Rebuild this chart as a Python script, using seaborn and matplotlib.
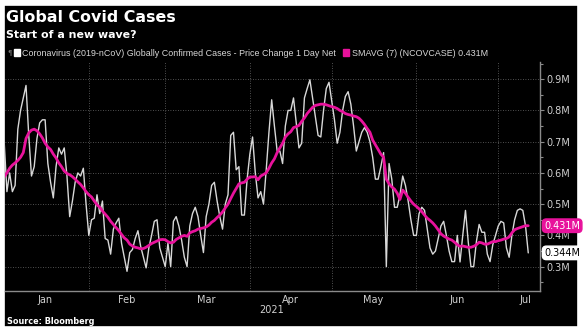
import matplotlib
matplotlib.use("Agg")
import matplotlib.pyplot as plt
import matplotlib.dates as mdates
from matplotlib.patches import Rectangle, Patch
from matplotlib.transforms import blended_transform_factory
import numpy as np
import pandas as pd
import seaborn as sns

# ---------------- data (millions of new cases per day) ----------------
start_date = "2021-01-01"
daily_cases = [
    0.70, 0.54, 0.60, 0.54, 0.56, 0.74, 0.80, 0.84, 0.88, 0.72,
    0.59, 0.62, 0.71, 0.76, 0.77, 0.77, 0.63, 0.57, 0.52, 0.62,
    0.68, 0.66, 0.68, 0.59, 0.46, 0.51, 0.57, 0.60, 0.59, 0.615,
    0.50, 0.40, 0.45, 0.455, 0.53, 0.47, 0.51, 0.39, 0.385, 0.34,
    0.42, 0.44, 0.455, 0.375, 0.33, 0.285, 0.345, 0.355, 0.39, 0.415,
    0.365, 0.33, 0.296, 0.36, 0.40, 0.445, 0.45, 0.36, 0.33, 0.30,
    0.375, 0.30, 0.445, 0.46, 0.43, 0.385, 0.33, 0.30, 0.43, 0.47,
    0.49, 0.46, 0.40, 0.345, 0.46, 0.50, 0.56, 0.57, 0.51, 0.46,
    0.42, 0.50, 0.53, 0.72, 0.73, 0.61, 0.62, 0.465, 0.465, 0.58,
    0.66, 0.715, 0.60, 0.52, 0.54, 0.50, 0.61, 0.73, 0.834, 0.75,
    0.67, 0.67, 0.63, 0.75, 0.80, 0.80, 0.84, 0.76, 0.68, 0.695,
    0.84, 0.87, 0.898, 0.84, 0.78, 0.72, 0.715, 0.80, 0.87, 0.89,
    0.83, 0.77, 0.695, 0.73, 0.80, 0.845, 0.86, 0.82, 0.75, 0.67,
    0.70, 0.73, 0.745, 0.73, 0.70, 0.65, 0.58, 0.58, 0.62, 0.665,
    0.30, 0.63, 0.58, 0.49, 0.49, 0.53, 0.59, 0.56, 0.51, 0.45,
    0.40, 0.40, 0.47, 0.49, 0.48, 0.42, 0.36, 0.34, 0.35, 0.39,
    0.43, 0.445, 0.40, 0.35, 0.316, 0.316, 0.40, 0.315, 0.40, 0.48,
    0.38, 0.30, 0.30, 0.38, 0.435, 0.41, 0.41, 0.34, 0.316, 0.37,
    0.40, 0.43, 0.445, 0.44, 0.36, 0.33, 0.40, 0.45, 0.48, 0.485,
    0.48, 0.43, 0.344,
]
sma7 = [
    0.587, 0.60, 0.615, 0.625, 0.632, 0.64, 0.65, 0.665, 0.71, 0.728,
    0.737, 0.74, 0.735, 0.725, 0.712, 0.695, 0.683, 0.675, 0.66, 0.648,
    0.632, 0.62, 0.606, 0.598, 0.594, 0.588, 0.58, 0.571, 0.563, 0.552,
    0.54, 0.53, 0.523, 0.51, 0.498, 0.49, 0.478, 0.468, 0.458, 0.445,
    0.435, 0.425, 0.415, 0.403, 0.392, 0.385, 0.372, 0.366, 0.362, 0.36,
    0.357, 0.358, 0.362, 0.368, 0.374, 0.378, 0.382, 0.386, 0.387, 0.386,
    0.38, 0.376, 0.378, 0.387, 0.392, 0.397, 0.40, 0.397, 0.408, 0.412,
    0.415, 0.42, 0.422, 0.424, 0.427, 0.433, 0.442, 0.448, 0.457, 0.465,
    0.475, 0.488, 0.50, 0.518, 0.535, 0.55, 0.565, 0.568, 0.57, 0.58,
    0.587, 0.587, 0.588, 0.578, 0.59, 0.595, 0.60, 0.615, 0.632, 0.645,
    0.665, 0.68, 0.695, 0.715, 0.725, 0.732, 0.745, 0.748, 0.752, 0.765,
    0.776, 0.79, 0.80, 0.81, 0.816, 0.818, 0.82, 0.82, 0.818, 0.815,
    0.812, 0.81, 0.806, 0.80, 0.796, 0.79, 0.787, 0.785, 0.782, 0.78,
    0.775, 0.766, 0.755, 0.742, 0.73, 0.705, 0.69, 0.675, 0.66, 0.65,
    0.58, 0.565, 0.555, 0.548, 0.535, 0.515, 0.545, 0.535, 0.522, 0.51,
    0.50, 0.493, 0.485, 0.476, 0.465, 0.455, 0.448, 0.44, 0.43, 0.418,
    0.405, 0.398, 0.393, 0.388, 0.385, 0.378, 0.37, 0.365, 0.366, 0.364,
    0.362, 0.362, 0.365, 0.37, 0.378, 0.376, 0.372, 0.372, 0.376, 0.38,
    0.38, 0.383, 0.385, 0.388, 0.39, 0.395, 0.408, 0.418, 0.422, 0.425,
    0.428, 0.431, 0.431,
]
month_labels = ["Jan", "Feb", "Mar", "Apr", "May", "Jun", "Jul"]
month_label_dates = ["2021-01-16", "2021-02-15", "2021-03-16", "2021-04-16",
                     "2021-05-16", "2021-06-16", "2021-07-11"]
month_starts = ["2021-02-01", "2021-03-01", "2021-04-01", "2021-05-01",
                "2021-06-01", "2021-07-01"]
y_major = [0.3, 0.4, 0.5, 0.6, 0.7, 0.8, 0.9]
y_minor = [0.25, 0.35, 0.45, 0.55, 0.65, 0.75, 0.85, 0.95]
series_daily = "Coronavirus (2019-nCoV) Globally Confirmed Cases - Price Change 1 Day Net"
series_sma = "SMAVG (7) (NCOVCASE) 0.431M"
last_daily_label = "0.344M"
last_sma_label = "0.431M"

dates = pd.date_range(start_date, periods=len(daily_cases), freq="D")
df = pd.DataFrame({"date": dates, "daily": daily_cases, "sma": sma7})

# ---------------- style ----------------
sns.set_theme(style="dark")
plt.rcParams["font.family"] = ["DejaVu Sans"]
NARROW = ["Liberation Sans", "DejaVu Sans"]

W, H = 584, 334
fig = plt.figure(figsize=(W / 100, H / 100), dpi=100)
fig.patch.set_facecolor("white")
bg = Rectangle((4 / W, 7 / H), 574 / W, 322 / H, transform=fig.transFigure,
               facecolor="black", edgecolor="white", lw=1.2, zorder=-10)
fig.patches.append(bg)

ax = fig.add_axes([5 / W, (H - 291) / H, 535 / W, 229 / H])
ax.set_zorder(5)
ax.set_facecolor("black")

WHITE_LINE = "#d8d8d8"
PINK = "#e8129c"

sns.lineplot(data=df, x="date", y="daily", color=WHITE_LINE, lw=1.0, ax=ax, zorder=3)
sns.lineplot(data=df, x="date", y="sma", color=PINK, lw=2.0, ax=ax, zorder=4)

t0 = pd.Timestamp(start_date)
ax.set_xlim(t0 + pd.Timedelta(days=0.3), t0 + pd.Timedelta(days=196.3))
ax.set_ylim(0.222, 0.955)

# grid
for y in y_major:
    ax.axhline(y, color="#6a6a6a", lw=0.6, ls=(0, (1, 2)), zorder=1)
for d in month_starts:
    ax.axvline(pd.Timestamp(d), color="#6a6a6a", lw=0.6, ls=(0, (1, 2)), zorder=1)
ax.grid(False)

# spines
for s in ["left", "top"]:
    ax.spines[s].set_visible(False)
for s in ["right", "bottom"]:
    ax.spines[s].set_visible(True)
    ax.spines[s].set_color("#8a8a8a")
    ax.spines[s].set_linewidth(1.0)

# y axis on right
ax.yaxis.tick_right()
ax.set_yticks(y_major)
ax.set_yticklabels([f"{v:.1f}M" for v in y_major])
ax.set_yticks(y_minor, minor=True)
ax.tick_params(axis="y", which="major", length=3, width=0.8, color="#8a8a8a",
               labelcolor="#d0d0d0", labelsize=7, pad=1.5)
ax.tick_params(axis="y", which="minor", length=2, width=0.8, color="#8a8a8a")
ax.set_ylabel("")

# x axis
ax.set_xticks([pd.Timestamp(d) for d in month_starts])
ax.set_xticklabels([""] * len(month_starts))
ax.set_xticks([pd.Timestamp(d) for d in month_label_dates], minor=True)
ax.set_xticklabels(month_labels, minor=True)
ax.tick_params(axis="x", which="major", length=3, width=0.8, color="#8a8a8a")
ax.tick_params(axis="x", which="minor", length=0, labelcolor="#d0d0d0", labelsize=7, pad=3)
ax.set_xlabel("")
trans = blended_transform_factory(ax.transData, ax.transAxes)
ax.text(pd.Timestamp("2021-04-09"), -0.085, "2021", transform=trans, ha="center", va="center",
        color="#d0d0d0", fontsize=7)

# last value tags
ax.annotate(last_sma_label, xy=(1, sma7[-1]), xycoords=("axes fraction", "data"),
            xytext=(3, 0), textcoords="offset points", ha="left", va="center",
            color="white", fontsize=7, annotation_clip=False,
            bbox=dict(boxstyle="round,pad=0.18,rounding_size=0.4", fc=PINK, ec=PINK))
ax.annotate(last_daily_label, xy=(1, daily_cases[-1]), xycoords=("axes fraction", "data"),
            xytext=(3, 0), textcoords="offset points", ha="left", va="center",
            color="black", fontsize=7, annotation_clip=False,
            bbox=dict(boxstyle="round,pad=0.18,rounding_size=0.4", fc="white", ec="white"))

# legend
handles = [Patch(facecolor="white", edgecolor="white"), Patch(facecolor=PINK, edgecolor=PINK)]
leg = ax.legend(handles, [series_daily, series_sma], loc="lower left",
                bbox_to_anchor=(0.008, 1.0), ncol=2, frameon=False,
                prop={"family": NARROW, "size": 6.4},
                handlelength=0.7, handleheight=0.7, handletextpad=0.25,
                columnspacing=0.8, borderaxespad=0.3, borderpad=0.2)
for t in leg.get_texts():
    t.set_color("#d8d8d8")
fig.text(7 / W, 1 - 52 / H, "¶", color="#777777", fontsize=5, ha="left", va="center")

# titles & source
fig.text(6 / W, 1 - 17 / H, "Global Covid Cases", color="white", fontsize=11.4,
         fontweight="bold", ha="left", va="center")
fig.text(6 / W, 1 - 35 / H, "Start of a new wave?", color="white", fontsize=7.9,
         fontweight="bold", ha="left", va="center")
fig.text(7 / W, 1 - 322 / H, "Source: Bloomberg", color="white", fontsize=5.9,
         fontweight="bold", ha="left", va="center")

fig.savefig("out.png", dpi=100, facecolor=fig.get_facecolor())
